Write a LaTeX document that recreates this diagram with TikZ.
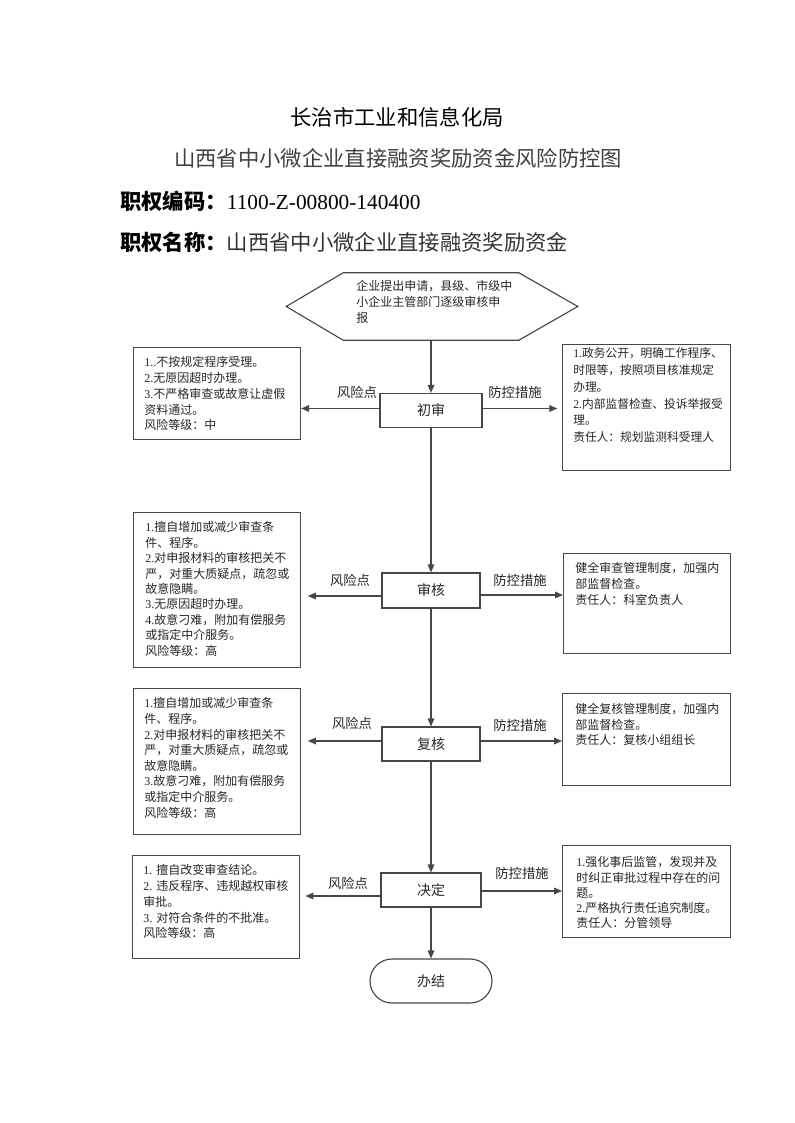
\documentclass[tikz,border=0pt]{standalone}
\usepackage{fontspec}
\setmainfont{Liberation Serif}
\newfontfamily\cjkfont{Noto Sans CJK SC}
\usetikzlibrary{arrows.meta,calc}
\XeTeXinterchartokenstate=1
\newXeTeXintercharclass\cjkclass
\makeatletter
\count@="3000 \loop \XeTeXcharclass\count@=\cjkclass \ifnum\count@<"303F \advance\count@\@ne \repeat
\count@="4E00 \loop \XeTeXcharclass\count@=\cjkclass \ifnum\count@<"9FFF \advance\count@\@ne \repeat
\count@="FF00 \loop \XeTeXcharclass\count@=\cjkclass \ifnum\count@<"FFEF \advance\count@\@ne \repeat
\makeatother
\XeTeXinterchartoks 0 \cjkclass = {\cjkfont}
\XeTeXinterchartoks 4095 \cjkclass = {\cjkfont}
\XeTeXinterchartoks \cjkclass 0 = {\rmfamily}
\XeTeXinterchartoks 4095 0 = {\rmfamily}
\tikzset{
  ln/.style={draw=black!72, line width=0.85pt},
  cbox/.style={ln, inner sep=0pt, font=\fontsize{10.5}{12}\selectfont, text=black!85},
  rbox/.style={ln, anchor=north west, inner sep=0pt},
  btxt/.style={anchor=north west, inner sep=0pt, align=left, text=black!85, font=\fontsize{9}{11.7}\selectfont},
  lab/.style={inner sep=0pt, text=black!85, font=\fontsize{10}{12}\selectfont},
  arr/.style={ln, -{Triangle[length=6pt,width=5pt]}},
}
\begin{document}
\begin{tikzpicture}[x=0.75pt,y=-0.75pt]
\useasboundingbox (0,0) rectangle (794,1123);
% titles
\node[inner sep=0pt, font=\fontsize{16}{18}\selectfont] (t1) at (397,117) {长治市工业和信息化局};
\node[inner sep=0pt, text=black!75, font=\fontsize{16}{18}\selectfont] (t2) at (398,158) {山西省中小微企业直接融资奖励资金风险防控图};
\node[inner sep=0pt, anchor=west, font=\fontsize{16}{18}\selectfont] (t3) at (120,201) {{\bfseries 职权编码：}1100-Z-00800-140400};
\node[inner sep=0pt, anchor=west, font=\fontsize{16}{18}\selectfont] (t4) at (120,242) {{\bfseries 职权名称：}{\color{black!80}山西省中小微企业直接融资奖励资金}};
% start hexagon
\node[inner sep=0pt, minimum width=175*0.75pt, minimum height=67*0.75pt] (start) at (431,306.5) {};
\draw[ln] (start.north west) -- (start.north east) -- ($(start.east)+(59,0)$) -- (start.south east) -- (start.south west) -- ($(start.west)+(-57,0)$) -- cycle;
\node[btxt, font=\fontsize{9}{12}\selectfont] (starttxt) at (356,280.5) {企业提出申请，县级、市级中\\小企业主管部门逐级审核申\\报};
% central steps
\node[cbox, minimum width=102*0.75pt, minimum height=34*0.75pt] (chu) at (431,410.5) {初审};
\node[cbox, minimum width=98*0.75pt, minimum height=35*0.75pt] (shen) at (431,590.5) {审核};
\node[cbox, minimum width=98*0.75pt, minimum height=34*0.75pt] (fu) at (431,744) {复核};
\node[cbox, minimum width=100*0.75pt, minimum height=34*0.75pt] (jue) at (431,890) {决定};
\node[cbox, rounded corners=16.5pt, minimum width=122*0.75pt, minimum height=44*0.75pt] (ban) at (431,981) {办结};
% left risk boxes
\node[rbox, minimum width=167*0.75pt, minimum height=92*0.75pt] (L1) at (133,347) {};
\node[btxt, font=\fontsize{9}{11.8}\selectfont] at (144,356.5) {1..不按规定程序受理。\\2.无原因超时办理。\\3.不严格审查或故意让虚假\\资料通过。\\风险等级：中};
\node[rbox, minimum width=167*0.75pt, minimum height=155*0.75pt] (L2) at (133,512) {};
\node[btxt, font=\fontsize{9}{11.55}\selectfont] at (145,521.5) {1.擅自增加或减少审查条\\件、程序。\\2.对申报材料的审核把关不\\严，对重大质疑点，疏忽或\\故意隐瞒。\\3.无原因超时办理。\\4.故意刁难，附加有偿服务\\或指定中介服务。\\风险等级：高};
\node[rbox, minimum width=167*0.75pt, minimum height=146*0.75pt] (L3) at (133,688) {};
\node[btxt, font=\fontsize{9}{11.7}\selectfont] at (144,697.5) {1.擅自增加或减少审查条\\件、程序。\\2.对申报材料的审核把关不\\严，对重大质疑点，疏忽或\\故意隐瞒。\\3.故意刁难，附加有偿服务\\或指定中介服务。\\风险等级：高};
\node[rbox, minimum width=167*0.75pt, minimum height=103*0.75pt] (L4) at (132,855) {};
\node[btxt, font=\fontsize{9}{11.8}\selectfont] at (143,864.5) {1. 擅自改变审查结论。\\2. 违反程序、违规越权审核\\审批。\\3. 对符合条件的不批准。\\风险等级：高};
% right control boxes
\node[rbox, minimum width=168*0.75pt, minimum height=126*0.75pt] (R1) at (562,344) {};
\node[btxt, font=\fontsize{8.8}{12.6}\selectfont] at (573,347.5) {1.政务公开，明确工作程序、\\时限等，按照项目核准规定\\办理。\\2.内部监督检查、投诉举报受\\理。\\责任人：规划监测科受理人};
\node[rbox, minimum width=167*0.75pt, minimum height=100*0.75pt] (R2) at (563,553) {};
\node[btxt, font=\fontsize{9}{12}\selectfont] at (575,562.5) {健全审查管理制度，加强内\\部监督检查。\\责任人：科室负责人};
\node[rbox, minimum width=168*0.75pt, minimum height=92*0.75pt] (R3) at (562,693) {};
\node[btxt, font=\fontsize{9}{11.6}\selectfont] at (575,703.5) {健全复核管理制度，加强内\\部监督检查。\\责任人：复核小组组长};
\node[rbox, minimum width=168*0.75pt, minimum height=92*0.75pt] (R4) at (562,845) {};
\node[btxt, font=\fontsize{9}{11.45}\selectfont] at (576,856.5) {1.强化事后监管，发现并及\\时纠正审批过程中存在的问\\题。\\2.严格执行责任追究制度。\\责任人：分管领导};
% main flow
\draw[arr] (start.south) -- (chu.north);
\draw[arr] (chu.south) -- (shen.north);
\draw[arr] (shen.south) -- (fu.north);
\draw[arr] (fu.south) -- (jue.north);
\draw[arr] (jue.south) -- (ban.north);
% side connectors
\coordinate (a1) at ($(chu.west)+(0,-2)$);
\coordinate (b1) at ($(chu.east)+(0,-2)$);
\draw[arr] (a1) -- (a1 -| L1.east);
\draw[arr, shorten >=3.5pt] (b1) -- (b1 -| R1.west);
\coordinate (a2) at ($(shen.west)+(0,5.5)$);
\coordinate (b2) at ($(shen.east)+(0,4.5)$);
\draw[arr, shorten >=5pt] (a2) -- (a2 -| L2.east);
\draw[arr] (b2) -- (b2 -| R2.west);
\coordinate (a3) at ($(fu.west)+(0,-3)$);
\coordinate (b3) at ($(fu.east)+(0,-3)$);
\draw[arr, shorten >=5pt] (a3) -- (a3 -| L3.east);
\draw[arr] (b3) -- (b3 -| R3.west);
\coordinate (a4) at ($(jue.west)+(0,6)$);
\coordinate (b4) at ($(jue.east)+(0,1)$);
\draw[arr, shorten >=4pt] (a4) -- (a4 -| L4.east);
\draw[arr] (b4) -- (b4 -| R4.west);
% labels
\node[lab] (f1) at (357,392) {风险点};
\node[lab] (p1) at (515,392) {防控措施};
\node[lab] (f2) at (350,580) {风险点};
\node[lab] (p2) at (520,580) {防控措施};
\node[lab] (f3) at (352,723) {风险点};
\node[lab] (p3) at (520,725) {防控措施};
\node[lab] (f4) at (348,883) {风险点};
\node[lab] (p4) at (522,873) {防控措施};
\end{tikzpicture}
\end{document}
